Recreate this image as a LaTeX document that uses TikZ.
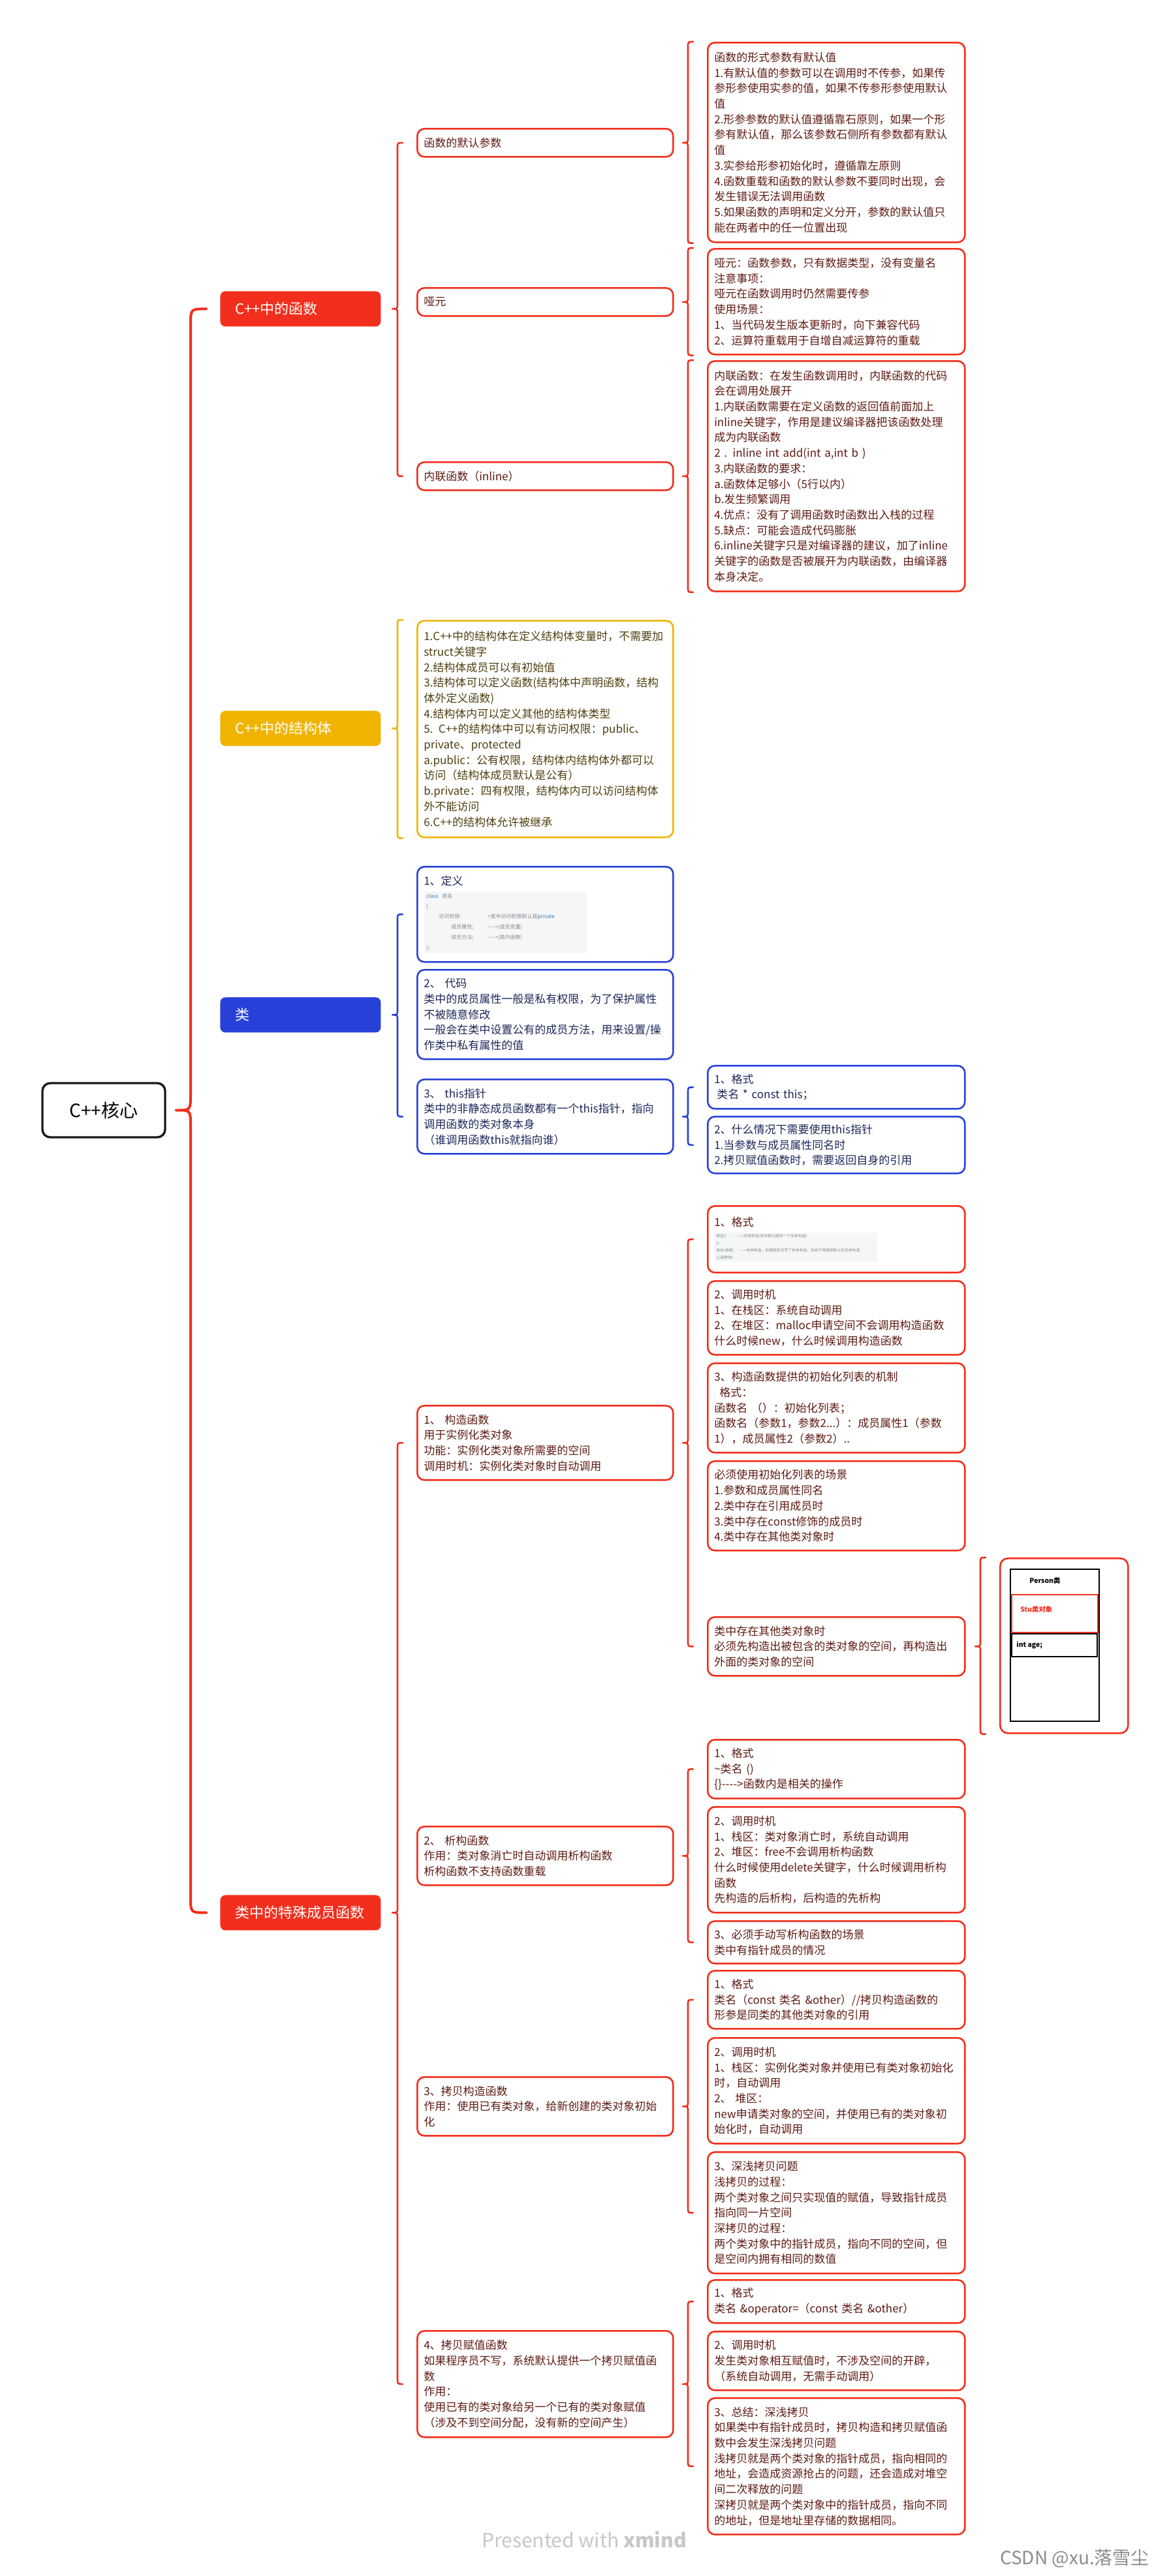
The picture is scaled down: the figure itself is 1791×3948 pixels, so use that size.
\documentclass[tikz,border=0pt]{standalone}
\usepackage{fontspec}
\setmainfont{Noto Sans CJK SC}
\usepackage{xcolor}
\usepackage{tikz}
\usetikzlibrary{
	calc,
	positioning
}

\definecolor{mapred}{HTML}{F22E1C}
\definecolor{mapgold}{HTML}{F0B400}
\definecolor{mapblue}{HTML}{2741D8}
\definecolor{redtxt}{HTML}{5E1A12}
\definecolor{goldtxt}{HTML}{4F3F10}
\definecolor{bluetxt}{HTML}{1C2759}
\definecolor{codebg}{HTML}{F5F6F8}
\definecolor{codetxt}{HTML}{8A8A8A}
\definecolor{codekw}{HTML}{3A7FB8}

\tikzset{
	every node/.style={font=\fontsize{8.5}{11.85}\selectfont},
	rootbox/.style={draw=black!90, line width=1.7pt, rounded corners=6pt, fill=white, minimum width=94pt, minimum height=41.5pt, font=\fontsize{14}{16}\selectfont},
	topic/.style={fill=#1, rounded corners=4pt, text=white, anchor=north west, align=left, text width=100pt, inner xsep=11.5pt, inner ysep=0pt, minimum height=27pt, font=\fontsize{11}{13}\selectfont},
	leaf/.style={draw=#1, line width=1.3pt, rounded corners=5.5pt, fill=white, anchor=north west, align=left, inner xsep=5pt, inner ysep=2pt},
	rsub/.style={leaf=mapred, text width=186pt, text=redtxt},
	rnote/.style={leaf=mapred, text width=187pt, text=redtxt},
	gsub/.style={leaf=mapgold, text width=186pt, text=goldtxt},
	bsub/.style={leaf=mapblue, text width=186pt, text=bluetxt},
	bnote/.style={leaf=mapblue, text width=187pt, text=bluetxt},
	brace/.style={line width=1.3pt, line cap=round, line join=round},
	objbox/.style={anchor=north west, inner sep=0pt, line width=0.9pt},
	objtxt/.style={anchor=west, inner sep=0pt, font=\fontsize{5.2}{6}\selectfont\bfseries},
}

\newcommand{\mapbrace}[6][]{%
	\draw[brace,#1] let \p1=(#3), \p2=(#4), \p3=(#2.east) in
		($(\x1,\y1)+(-21,0)$) .. controls ($(\x1,\y1)+(-21-#5,0)$) .. ($(\x1,\y1)+(-21-#5,#5)$)
		-- ($(\x1,\y3)+(-21-#5,-#5)$) .. controls ($(\x1,\y3)+(-21-#5,0)$) .. ($(\x1,\y3)+(-21-#5-#6,0)$)
		.. controls ($(\x1,\y3)+(-21-#5,0)$) .. ($(\x1,\y3)+(-21-#5,#5)$)
		-- ($(\x2,\y2)+(-21-#5,-#5)$) .. controls ($(\x2,\y2)+(-21-#5,0)$) .. ($(\x2,\y2)+(-21,0)$);
}

\begin{document}
\begin{tikzpicture}[x=0.5pt, y=-0.5pt]
	\path[use as bounding box, fill=white] (0,0) rectangle (1791,3948);

	\node[rootbox] (root) at (159,1701.5) {C++核心};

	\node[topic=mapred] (fn) at (337,446) {C++中的函数};
	\node[topic=mapgold] (st) at (337,1089) {C++中的结构体};
	\node[topic=mapblue] (cls) at (337,1528) {类};
	\node[topic=mapred] (sp) at (337,2904) {类中的特殊成员函数};

	\node[rsub, minimum height=21.5pt] (f1) at (638,196) {函数的默认参数};
	\node[rsub, minimum height=21.5pt] (f2) at (638,440) {哑元};
	\node[rsub, minimum height=21.5pt] (f3) at (638,707) {内联函数（inline）};

	\node[rnote, minimum height=153pt] (f1c) at (1083,64) {函数的形式参数有默认值\\
		1.有默认值的参数可以在调用时不传参，如果传\\
		参形参使用实参的值，如果不传参形参使用默认\\
		值\\
		2.形参参数的默认值遵循靠石原则，如果一个形\\
		参有默认值，那么该参数石侧所有参数都有默认\\
		值\\
		3.实参给形参初始化时，遵循靠左原则\\
		4.函数重载和函数的默认参数不要同时出现，会\\
		发生错误无法调用函数\\
		5.如果函数的声明和定义分开，参数的默认值只\\
		能在两者中的任一位置出现};
	\node[rnote, minimum height=81pt] (f2c) at (1083,380) {哑元：函数参数，只有数据类型，没有变量名\\
		注意事项：\\
		哑元在函数调用时仍然需要传参\\
		使用场景：\\
		1、当代码发生版本更新时，向下兼容代码\\
		2、运算符重载用于自增自减运算符的重载};
	\node[rnote, minimum height=176.5pt] (f3c) at (1083,552) {内联函数：在发生函数调用时，内联函数的代码\\
		会在调用处展开\\
		1.内联函数需要在定义函数的返回值前面加上\\
		inline关键字，作用是建议编译器把该函数处理\\
		成为内联函数\\
		2 . inline int add(int a,int b )\\
		3.内联函数的要求：\\
		a.函数体足够小（5行以内）\\
		b.发生频繁调用\\
		4.优点：没有了调用函数时函数出入栈的过程\\
		5.缺点：可能会造成代码膨胀\\
		6.inline关键字只是对编译器的建议，加了inline\\
		关键字的函数是否被展开为内联函数，由编译器\\
		本身决定。};

	\node[gsub, minimum height=166pt] (st1) at (638,950) {1.C++中的结构体在定义结构体变量时，不需要加\\
		struct关键字\\
		2.结构体成员可以有初始值\\
		3.结构体可以定义函数(结构体中声明函数，结构\\
		体外定义函数)\\
		4.结构体内可以定义其他的结构体类型\\
		5. C++的结构体中可以有访问权限：public、\\
		private、protected\\
		a.public：公有权限，结构体内结构体外都可以\\
		访问（结构体成员默认是公有）\\
		b.private：四有权限，结构体内可以访问结构体\\
		外不能访问\\
		6.C++的结构体允许被继承};

	\node[bsub, minimum height=73pt] (c1) at (638,1327) {1、定义\\[3pt]
		{\fboxsep=2pt\colorbox{codebg}{\parbox{121pt}{\fontsize{4}{7.9}\selectfont\color{codetxt}%
		{\color{codekw}class} 类名\\
		\{\\
		\makebox[47pt][l]{\hspace{9.5pt}访问权限:}>类中访问权限默认是{\color{codekw}private}\\
		\makebox[47pt][l]{\hspace{19pt}成员属性;}-{}-{}-{}->(成员变量)\\
		\makebox[47pt][l]{\hspace{19pt}成员方法;}-{}-{}-{}->(类内函数)\\
		\};}}}};
	\node[bsub, minimum height=68.5pt] (c2) at (638,1485) {2、 代码\\
		类中的成员属性一般是私有权限，为了保护属性\\
		不被随意修改\\
		一般会在类中设置公有的成员方法，用来设置/操\\
		作类中私有属性的值};
	\node[bsub, minimum height=57pt] (c3) at (638,1653) {3、 this指针\\
		类中的非静态成员函数都有一个this指针，指向\\
		调用函数的类对象本身\\
		（谁调用函数this就指向谁）};
	\node[bnote, minimum height=33pt] (t1) at (1083,1632) {1、格式\\
		\hspace*{2pt}类名 * const this；};
	\node[bnote, minimum height=43.5pt] (t2) at (1083,1710) {2、什么情况下需要使用this指针\\
		1.当参数与成员属性同名时\\
		2.拷贝赋值函数时，需要返回自身的引用};

	\node[rsub, minimum height=57pt] (s1) at (638,2153) {1、 构造函数\\
		用于实例化类对象\\
		功能：实例化类对象所需要的空间\\
		调用时机：实例化类对象时自动调用};
	\node[rsub, minimum height=45pt] (s2) at (638,2798) {2、 析构函数\\
		作用：类对象消亡时自动调用析构函数\\
		析构函数不支持函数重载};
	\node[rsub, minimum height=45pt] (s3) at (638,3182) {3、拷贝构造函数\\
		作用：使用已有类对象，给新创建的类对象初始\\
		化};
	\node[rsub, minimum height=81.5pt] (s4) at (638,3571) {4、拷贝赋值函数\\
		如果程序员不写，系统默认提供一个拷贝赋值函\\
		数\\
		作用：\\
		使用已有的类对象给另一个已有的类对象赋值\\
		（涉及不到空间分配，没有新的空间产生）};

	\node[rnote, minimum height=51pt] (k1) at (1083,1847) {1、格式\\[3pt]
		{\fboxsep=1.5pt\colorbox{codebg}{\parbox{122pt}{\fontsize{2.9}{5.5}\selectfont\color{codetxt}%
		\makebox[14.5pt][l]{类名()}-{}-{}-{}-{}->无参构造(类中默认提供一个无参构造)\\
		\{\}\\
		\makebox[17.5pt][l]{类名(参数)}-{}-{}-{}->有参构造，如果程序员写了有参构造，系统不再提供默认的无参构造\\
		\{//函数体\}}}}};
	\node[rnote, minimum height=56.5pt] (k2) at (1083,1962) {2、调用时机\\
		1、在栈区：系统自动调用\\
		2、在堆区：malloc申请空间不会调用构造函数\\
		什么时候new，什么时候调用构造函数};
	\node[rnote, minimum height=68.5pt] (k3) at (1083,2088) {3、构造函数提供的初始化列表的机制\\
		\hspace*{4pt}格式：\\
		函数名 （）：初始化列表；\\
		函数名（参数1，参数2...）：成员属性1（参数\\
		1），成员属性2（参数2）..};
	\node[rnote, minimum height=68.5pt] (k4) at (1083,2238) {必须使用初始化列表的场景\\
		1.参数和成员属性同名\\
		2.类中存在引用成员时\\
		3.类中存在const修饰的成员时\\
		4.类中存在其他类对象时};
	\node[rnote, minimum height=45pt] (k5) at (1083,2477) {类中存在其他类对象时\\
		必须先构造出被包含的类对象的空间，再构造出\\
		外面的类对象的空间};

	\node[draw=mapred, line width=1.3pt, rounded corners=6pt, anchor=north west, inner sep=0pt, minimum width=98pt, minimum height=134pt] (per) at (1531,2387) {};
	\node[objbox, draw=black, minimum width=68pt, minimum height=116.5pt] (pcls) at (1547,2404) {};
	\node[objbox, draw=mapred, minimum width=66pt, minimum height=29pt] (pstu) at (1549,2443) {};
	\node[objbox, draw=black, minimum width=65.5pt, minimum height=17.5pt] (page) at (1549,2503) {};
	\node[objtxt] (pname) at (1577,2423) {Person类};
	\node[objtxt, text=mapred] (sname) at (1563,2466) {Stu类对象};
	\node[objtxt] (aname) at (1557,2521) {int age;};

	\node[rnote, minimum height=45pt] (d1) at (1083,2665) {1、格式\\
		\textasciitilde 类名 ()\\
		\{\}-{}-{}-{}->函数内是相关的操作};
	\node[rnote, minimum height=81pt] (d2) at (1083,2768) {2、调用时机\\
		1、栈区：类对象消亡时，系统自动调用\\
		2、堆区：free不会调用析构函数\\
		什么时候使用delete关键字，什么时候调用析构\\
		函数\\
		先构造的后析构，后构造的先析构};
	\node[rnote, minimum height=32.5pt] (d3) at (1083,2943) {3、必须手动写析构函数的场景\\
		类中有指针成员的情况};

	\node[rnote, minimum height=44.5pt] (p1) at (1083,3019) {1、格式\\
		类名（const 类名 \&other）//拷贝构造函数的\\
		形参是同类的其他类对象的引用};
	\node[rnote, minimum height=81pt] (p2) at (1083,3122) {2、调用时机\\
		1、栈区：实例化类对象并使用已有类对象初始化\\
		时，自动调用\\
		2、 堆区：\\
		new申请类对象的空间，并使用已有的类对象初\\
		始化时，自动调用};
	\node[rnote, minimum height=93pt] (p3) at (1083,3297) {3、深浅拷贝问题\\
		浅拷贝的过程：\\
		两个类对象之间只实现值的赋值，导致指针成员\\
		指向同一片空间\\
		深拷贝的过程：\\
		两个类对象中的指针成员，指向不同的空间，但\\
		是空间内拥有相同的数值};

	\node[rnote, minimum height=33pt] (q1) at (1083,3493) {1、格式\\
		类名 \&operator=（const 类名 \&other）};
	\node[rnote, minimum height=45pt] (q2) at (1083,3572) {2、调用时机\\
		发生类对象相互赋值时，不涉及空间的开辟，\\
		（系统自动调用，无需手动调用）};
	\node[rnote, minimum height=104.5pt] (q3) at (1083,3674) {3、总结：深浅拷贝\\
		如果类中有指针成员时，拷贝构造和拷贝赋值函\\
		数中会发生深浅拷贝问题\\
		浅拷贝就是两个类对象的指针成员，指向相同的\\
		地址，会造成资源抢占的问题，还会造成对堆空\\
		间二次释放的问题\\
		深拷贝就是两个类对象中的指针成员，指向不同\\
		的地址，但是地址里存储的数据相同。};

	\mapbrace[mapred, line width=2pt]{root}{fn.west}{sp.west}{24}{22}
	\mapbrace[mapred]{fn}{f1.west}{f3.west}{8}{8}
	\mapbrace[mapred]{f1}{f1c.north west}{f1c.south west}{8}{8}
	\mapbrace[mapred]{f2}{f2c.north west}{f2c.south west}{8}{8}
	\mapbrace[mapred]{f3}{f3c.north west}{f3c.south west}{8}{8}
	\mapbrace[mapgold]{st}{st1.north west}{st1.south west}{8}{8}
	\mapbrace[mapblue]{cls}{c1.west}{c3.west}{8}{8}
	\mapbrace[mapblue]{c3}{t1.west}{t2.west}{8}{8}
	\mapbrace[mapred]{sp}{s1.west}{s4.west}{8}{8}
	\mapbrace[mapred]{s1}{k1.west}{k5.west}{8}{8}
	\mapbrace[mapred]{k5}{per.north west}{per.south west}{8}{8}
	\mapbrace[mapred]{s2}{d1.west}{d3.west}{8}{8}
	\mapbrace[mapred]{s3}{p1.west}{p3.west}{8}{8}
	\mapbrace[mapred]{s4}{q1.west}{q3.west}{8}{8}

	\node[text=black!22, font=\fontsize{15}{17}\selectfont] (wm1) at (895,3892) {Presented with \textbf{xmind}};
	\node[anchor=east, text=black!45, font=\fontsize{14}{16}\selectfont] (wm2) at (1768,3921) {CSDN @xu.落雪尘};
\end{tikzpicture}
\end{document}
